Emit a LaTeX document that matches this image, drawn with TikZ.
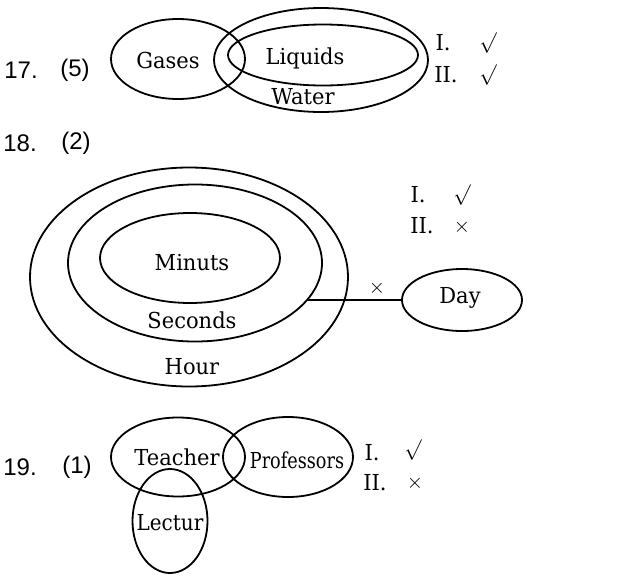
\documentclass[tikz,border=0pt]{standalone}
\usepackage{amsmath}
\usepackage{amssymb}
\usepackage{fontspec}
\usepackage{tikz}
\usetikzlibrary{shapes, positioning, calc}
\newfontfamily\numfont{Liberation Sans}
\newfontfamily\lblfont{DejaVu Serif}

\begin{document}
\begin{tikzpicture}[x=1pt, y=-1pt,
    venn/.style={draw, ellipse, line width=1.8pt, inner sep=0pt},
    lbl/.style={inner sep=0pt, xscale=0.955, font=\lblfont\fontsize{22}{26}\selectfont},
    num/.style={inner sep=0pt, font=\numfont\fontsize{24}{28}\selectfont},
    tick/.style={inner sep=0pt, font=\fontsize{21}{25}\selectfont}]
  \useasboundingbox (0,0) rectangle (629,581);

  % 17. Gases / Liquids inside Water
  \node[num] (n17) at (21,70) {17.};
  \node[num] (a17) at (75,70) {(5)};
  \node[venn, minimum width=134pt, minimum height=80pt] (gas) at (178,59) {};
  \node[venn, minimum width=214pt, minimum height=104pt] (wat) at (321,60) {};
  \node[venn, minimum width=190pt, minimum height=61pt] (liq) at (323,55) {};
  \node[lbl] (tgas) at (168,60) {Gases};
  \node[lbl] (tliq) at (305,58) {Liquids};
  \node[lbl] (twat) at (303,97) {Water};
  \node[lbl] (c17a) at (443,43) {I.};
  \node[tick] (v17a) at (488,43) {$\surd$};
  \node[lbl] (c17b) at (446,75) {II.};
  \node[tick] (v17b) at (488,75) {$\surd$};

  % 18. Minuts in Seconds in Hour, Day apart
  \node[num] (n18) at (20,143) {18.};
  \node[num] (a18) at (76,143) {(2)};
  \node[venn, minimum width=318pt, minimum height=219pt] (hour) at (189,277) {};
  \node[venn, minimum width=254pt, minimum height=157pt] (sec) at (195,263) {};
  \node[venn, minimum width=180pt, minimum height=90pt] (min) at (190,258) {};
  \node[venn, minimum width=120pt, minimum height=62pt] (day) at (462,300) {};
  \node[lbl] (tmin) at (192,263) {Minuts};
  \node[lbl] (tsec) at (192,320) {Seconds};
  \node[lbl] (thour) at (192,367) {Hour};
  \node[lbl] (tday) at (460,298) {Day};
  \draw[line width=2.2pt] (sec.-18) -- (sec.-18 -| day.west);
  \node[tick] (x18) at (377,288) {$\times$};
  \node[lbl] (c18a) at (418,195) {I.};
  \node[tick] (v18a) at (462,195) {$\surd$};
  \node[lbl] (c18b) at (422,226) {II.};
  \node[tick] (v18b) at (462,227) {$\times$};

  % 19. Teacher, Professors, Lectur
  \node[num] (n19) at (20,467) {19.};
  \node[num] (a19) at (77,467) {(1)};
  \node[venn, minimum width=134pt, minimum height=79pt] (tea) at (178,457) {};
  \node[venn, minimum width=130pt, minimum height=80pt] (pro) at (288,457) {};
  \node[venn, minimum width=75pt, minimum height=104pt] (lec) at (170,521) {};
  \node[lbl] (ttea) at (177,457) {Teacher};
  \node[lbl, xscale=0.84] (tpro) at (297,460) {Professors};
  \node[lbl, xscale=0.95] (tlec) at (170,523) {Lectur};
  \node[lbl] (c19a) at (372,453) {I.};
  \node[tick] (v19a) at (413,450) {$\surd$};
  \node[lbl] (c19b) at (375,483) {II.};
  \node[tick] (v19b) at (415,483) {$\times$};
\end{tikzpicture}
\end{document}
